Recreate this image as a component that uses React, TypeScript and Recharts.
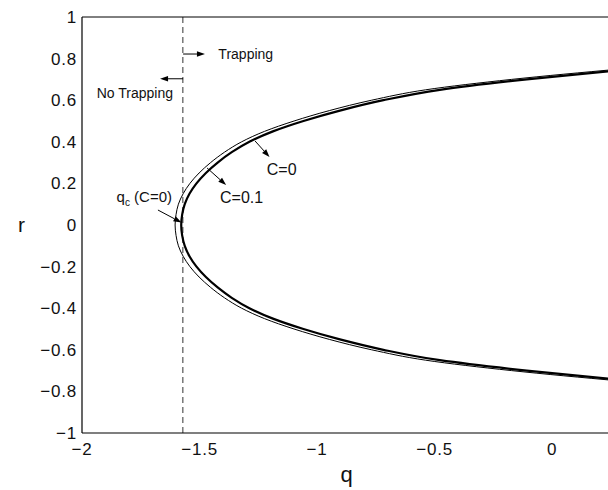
import React from "react";
import {
  LineChart,
  Line,
  XAxis,
  YAxis,
  ReferenceLine,
  ReferenceDot,
} from "recharts";

// C=0 curve (thick): r values from the lower branch to the upper branch, and q read at each
const rC0 = [
  -0.745, -0.7, -0.65, -0.6, -0.55, -0.5, -0.45, -0.4, -0.35, -0.3, -0.25, -0.2, -0.15,
  -0.1, -0.05, 0, 0.05, 0.1, 0.15, 0.2, 0.25, 0.3, 0.35, 0.4, 0.45, 0.5, 0.55, 0.6,
  0.65, 0.7, 0.745,
];
const qC0 = [
  0.3, -0.108, -0.478, -0.718, -0.903, -1.058, -1.188, -1.288, -1.363, -1.423, -1.473,
  -1.513, -1.543, -1.563, -1.574, -1.578, -1.574, -1.563, -1.543, -1.513, -1.473,
  -1.423, -1.363, -1.288, -1.188, -1.058, -0.903, -0.718, -0.478, -0.108, 0.3,
];
// C=0.1 curve (thin)
const rC01 = [
  -0.75, -0.7, -0.65, -0.6, -0.55, -0.5, -0.45, -0.4, -0.35, -0.3, -0.25, -0.2, -0.15,
  -0.1, -0.05, 0, 0.05, 0.1, 0.15, 0.2, 0.25, 0.3, 0.35, 0.4, 0.45, 0.5, 0.55, 0.6,
  0.65, 0.7, 0.75,
];
const qC01 = [
  0.29, -0.173, -0.538, -0.768, -0.948, -1.098, -1.224, -1.321, -1.394, -1.453, -1.502,
  -1.541, -1.57, -1.59, -1.6, -1.604, -1.6, -1.59, -1.57, -1.541, -1.502, -1.453,
  -1.394, -1.321, -1.224, -1.098, -0.948, -0.768, -0.538, -0.173, 0.29,
];

const qTicks = [-2, -1.5, -1, -0.5, 0];
const rTicks = [-1, -0.8, -0.6, -0.4, -0.2, 0, 0.2, 0.4, 0.6, 0.8, 1];
const qCritical = -1.571;

const c0Data = rC0.map((r, i) => ({ q: qC0[i], r }));
const c01Data = rC01.map((r, i) => ({ q: qC01[i], r }));

// annotation arrows: [q1, r1, q2, r2], arrowhead at the second point
const arrows = [
  [-1.57, 0.822, -1.477, 0.822],
  [-1.57, 0.703, -1.668, 0.703],
  [-1.677, 0.072, -1.577, 0.012],
  [-1.468, 0.274, -1.387, 0.192],
  [-1.264, 0.404, -1.2025, 0.327],
];

const FONT = "'Liberation Sans', Arial, Helvetica, sans-serif";
const minus = (v: number) => String(v).replace("-", "\u2212");

const Arrow = (p: any) => {
  const { x1, y1, x2, y2 } = p;
  const a = Math.atan2(y2 - y1, x2 - x1);
  const L = 8;
  const W = 2.8;
  const bx = x2 - L * Math.cos(a);
  const by = y2 - L * Math.sin(a);
  const px = -Math.sin(a) * W;
  const py = Math.cos(a) * W;
  return (
    <g>
      <line x1={x1} y1={y1} x2={bx} y2={by} stroke="#000" strokeWidth={1} />
      <polygon
        points={`${x2},${y2} ${bx + px},${by + py} ${bx - px},${by - py}`}
        fill="#000"
      />
    </g>
  );
};

const label =
  (text: string, anchor: "start" | "end", size: number) => (p: any) =>
    (
      <text
        x={p.cx}
        y={p.cy}
        dy="0.35em"
        textAnchor={anchor}
        fontSize={size}
        fontFamily={FONT}
        fill="#111"
      >
        {text}
      </text>
    );

const QcLabel = (p: any) => (
  <text x={p.cx} y={p.cy} dy="0.35em" fontSize={15} fontFamily={FONT} fill="#111">
    q
    <tspan dy={4} fontSize={10}>
      c
    </tspan>
    <tspan dy={-4}> (C=0)</tspan>
  </text>
);

export default function App() {
  const tickStyle = { fontSize: 17, fill: "#111", fontFamily: FONT, letterSpacing: 0.8 };
  return (
    <div
      style={{
        position: "fixed",
        left: 0,
        top: 0,
        width: 608,
        height: 490,
        overflow: "hidden",
        background: "#fff",
      }}
    >
      <LineChart
        width={612}
        height={490}
        margin={{ top: 17, right: 1, bottom: 0, left: 18 }}
      >
        <XAxis
          xAxisId="q"
          type="number"
          dataKey="q"
          domain={[-2, 0.25]}
          allowDataOverflow
          ticks={qTicks}
          tickFormatter={minus}
          tickLine={false}
          tickSize={0}
          tickMargin={10}
          height={57}
          axisLine={{ stroke: "#000", strokeWidth: 1.2 }}
          tick={tickStyle}
          label={{
            value: "q",
            position: "insideBottom",
            offset: 8,
            fontSize: 22,
            fill: "#111",
            fontFamily: FONT,
          }}
        />
        <XAxis
          xAxisId="qIn"
          type="number"
          domain={[-2, 0.25]}
          allowDataOverflow
          ticks={qTicks}
          orientation="bottom"
          mirror
          height={1}
          tick={false}
          tickSize={5}
          axisLine={false}
          tickLine={{ stroke: "#000" }}
        />
        <XAxis
          xAxisId="qTop"
          type="number"
          domain={[-2, 0.25]}
          allowDataOverflow
          ticks={qTicks}
          orientation="top"
          mirror
          height={1}
          tick={false}
          tickSize={5}
          axisLine={{ stroke: "#000" }}
          tickLine={{ stroke: "#000" }}
        />
        <YAxis
          yAxisId="r"
          type="number"
          domain={[-1, 1]}
          allowDataOverflow
          ticks={rTicks}
          tickFormatter={minus}
          tickLine={false}
          tickSize={0}
          tickMargin={5}
          width={64}
          axisLine={{ stroke: "#000", strokeWidth: 1.2 }}
          tick={tickStyle}
          label={{
            value: "r",
            position: "insideLeft",
            offset: 0,
            fontSize: 21,
            fill: "#111",
            fontFamily: FONT,
          }}
        />
        <YAxis
          yAxisId="rIn"
          type="number"
          domain={[-1, 1]}
          allowDataOverflow
          ticks={rTicks}
          orientation="left"
          mirror
          width={1}
          tick={false}
          tickSize={5}
          axisLine={false}
          tickLine={{ stroke: "#000" }}
        />
        <YAxis
          yAxisId="rRight"
          type="number"
          domain={[-1, 1]}
          allowDataOverflow
          ticks={rTicks}
          orientation="right"
          mirror
          width={1}
          tick={false}
          tickSize={5}
          axisLine={{ stroke: "#000" }}
          tickLine={{ stroke: "#000" }}
        />
        <ReferenceLine
          xAxisId="q"
          yAxisId="r"
          x={qCritical}
          stroke="#333"
          strokeDasharray="6 4"
        />
        <Line
          xAxisId="q"
          yAxisId="r"
          data={c01Data}
          dataKey="r"
          type="monotoneY"
          stroke="#000"
          strokeWidth={1}
          dot={false}
          isAnimationActive={false}
        />
        <Line
          xAxisId="q"
          yAxisId="r"
          data={c0Data}
          dataKey="r"
          type="monotoneY"
          stroke="#000"
          strokeWidth={2.2}
          dot={false}
          isAnimationActive={false}
        />
        {arrows.map((a, i) => (
          <ReferenceLine
            key={`arrow-${i}`}
            xAxisId="q"
            yAxisId="r"
            segment={[
              { x: a[0], y: a[1] },
              { x: a[2], y: a[3] },
            ]}
            shape={Arrow}
          />
        ))}
        <ReferenceDot xAxisId="q" yAxisId="r" x={-1.42} y={0.822} shape={label("Trapping", "start", 14)} />
        <ReferenceDot xAxisId="q" yAxisId="r" x={-1.613} y={0.633} shape={label("No Trapping", "end", 14)} />
        <ReferenceDot xAxisId="q" yAxisId="r" x={-1.853} y={0.135} shape={QcLabel} />
        <ReferenceDot xAxisId="q" yAxisId="r" x={-1.413} y={0.131} shape={label("C=0.1", "start", 16)} />
        <ReferenceDot xAxisId="q" yAxisId="r" x={-1.214} y={0.269} shape={label("C=0", "start", 16)} />
      </LineChart>
    </div>
  );
}
